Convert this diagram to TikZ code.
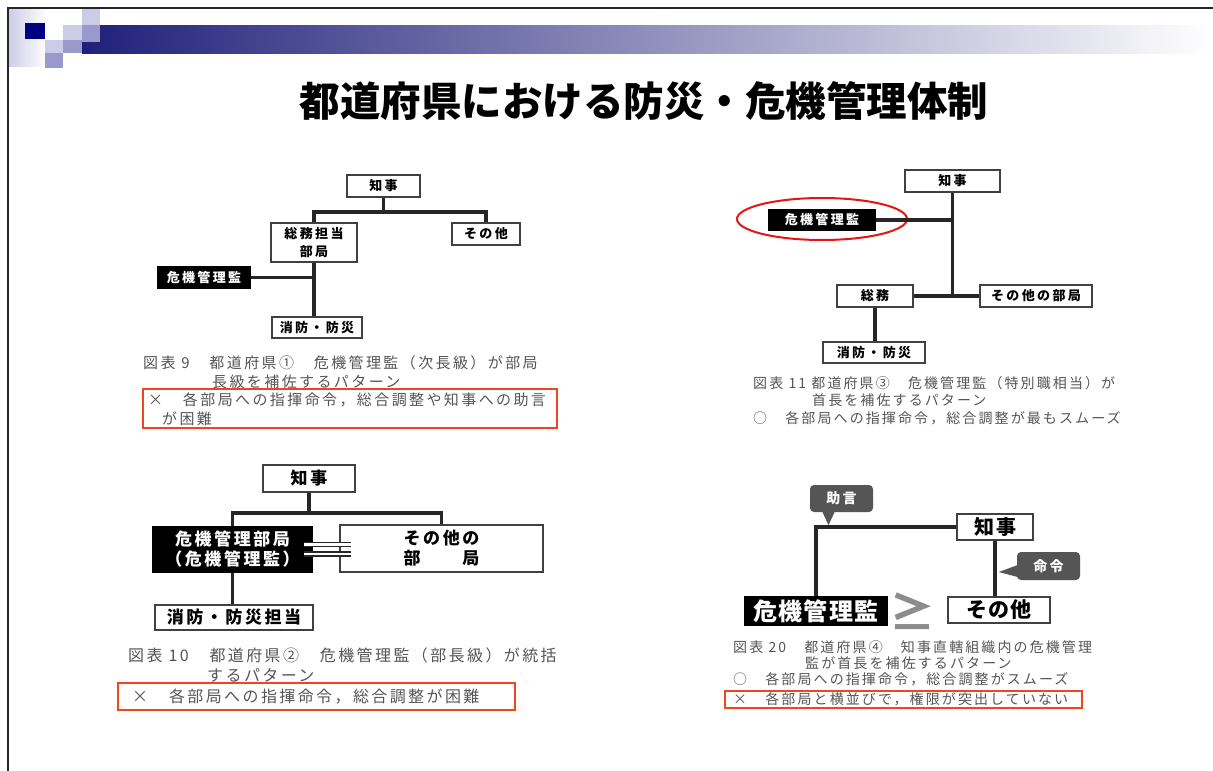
\documentclass[tikz,border=0pt]{standalone}
\usepackage{fontspec}
\newfontfamily\jp{Noto Sans CJK JP}
\usetikzlibrary{calc,shapes.geometric}
\definecolor{navy}{RGB}{32,32,122}
\definecolor{navyd}{RGB}{0,0,128}
\definecolor{lav}{RGB}{204,204,230}
\definecolor{lavm}{RGB}{153,153,204}
\definecolor{redbox}{RGB}{240,70,30}
\definecolor{redell}{RGB}{230,20,20}
\definecolor{capgray}{RGB}{85,85,85}
\definecolor{callgray}{RGB}{85,85,85}
\begin{document}
\begin{tikzpicture}[x=1pt,y=-1pt,
  box/.style={draw=black!75, line width=1.2pt, fill=white, inner sep=0pt, align=center,
    font=\jp\bfseries\fontsize{13}{18}\selectfont\addfontfeature{LetterSpace=18}},
  blk/.style={box, fill=black, draw=black, text=white},
  boxL/.style={box, font=\jp\bfseries\fontsize{17}{20}\selectfont\addfontfeature{LetterSpace=15}},
  blkL/.style={boxL, fill=black, draw=black, text=white},
  conn/.style={line width=3.2pt, black!85},
  dbl/.style={line width=1.4pt, black!85, double=white, double distance=2.5pt},
  capA/.style={anchor=west, inner sep=0pt, text=capgray, font=\jp\fontsize{15}{18}\selectfont\addfontfeature{LetterSpace=16}},
  capB/.style={anchor=west, inner sep=0pt, text=capgray, font=\jp\fontsize{14}{17}\selectfont\addfontfeature{LetterSpace=15}},
  capC/.style={anchor=west, inner sep=0pt, text=capgray, font=\jp\fontsize{16}{19}\selectfont\addfontfeature{LetterSpace=15}},
  redframe/.style={draw=redbox, line width=2pt, inner sep=0pt},
  callout/.style={fill=callgray, rounded corners=4pt, text=white, inner sep=0pt,
    font=\jp\bfseries\fontsize{14}{16}\selectfont\addfontfeature{LetterSpace=15}}
]
\useasboundingbox (0,0) rectangle (1213,771);
\fill[white] (0,0) rectangle (1213,771);
% header decoration
\shade[left color=lav, right color=white] (8,8) rectangle (47,66);
\shade[left color=navy, right color=white] (82,25) rectangle (1213,53);
\fill[navyd] (25,23) rectangle (45,39);
\fill[lav] (82,8) rectangle (100,25);
\fill[lavm] (82,25) rectangle (100,42);
\fill[lav] (63,25) rectangle (82,42);
\fill[lavm] (63,40) rectangle (82,53);
\fill[lav] (45,40) rectangle (63,53);
\fill[lavm] (45,53) rectangle (63,68);
\draw[line width=1.5pt, black!85] (1213,8) -- (8,8) -- (8,771);
% title
\node[font=\jp\bfseries\fontsize{40.5}{45}\selectfont] (title) at (644,101) {都道府県における防災・危機管理体制};

% ---------- Q1 ----------
\node[box, minimum width=73, minimum height=22] (k1) at (383.5,186) {知事};
\node[box, minimum width=86, minimum height=39] (s1) at (314,242.5) {総務担当\\部局};
\node[box, minimum width=68, minimum height=22] (o1) at (486,234) {その他};
\node[blk, minimum width=92, minimum height=21] (c1) at (204,277.5) {危機管理監};
\node[box, minimum width=90, minimum height=21] (f1) at (317,327.5) {消防・防災};
\coordinate (j1) at (383.5,212);
\draw[conn] (k1.south) -- (j1);
\draw[conn] (s1.north) |- (j1) -| (o1.north);
\draw[conn] (s1.south) -- (s1.south |- f1.north);
\draw[conn] (c1.east) -- (c1.east -| s1.south);
\node[capA] (t1a) at (143,363) {図表 9　都道府県①　危機管理監（次長級）が部局};
\node[capA] (t1b) at (212,382) {長級を補佐するパターン};
\node[redframe, minimum width=414, minimum height=39] (r1) at (350,408.5) {};
\node[capA] (t1c) at (148,400) {×　各部局への指揮命令，総合調整や知事への助言};
\node[capA] (t1d) at (162,419) {が困難};

% ---------- Q2 ----------
\node[box, minimum width=95, minimum height=22] (k2) at (952.5,181) {知事};
\node[blk, minimum width=106, minimum height=20] (c2) at (822,220) {危機管理監};
\node[box, minimum width=76, minimum height=22] (g2) at (875,296) {総務};
\node[box, minimum width=112, minimum height=22] (o2) at (1036,296) {その他の部局};
\node[box, minimum width=102, minimum height=21] (f2) at (874,352.5) {消防・防災};
\node[draw=redell, line width=2pt, ellipse, minimum width=170, minimum height=42, inner sep=0pt] (e2) at (822,219) {};
\draw[conn] (k2.south) -- (k2.south |- g2.east);
\draw[conn] (g2.east) -- (o2.west);
\draw[conn] (c2.east) -- (c2.east -| k2.south);
\draw[conn] (g2.south) -- (g2.south |- f2.north);
\node[capB] (t2a) at (753,383) {図表 11 都道府県③　危機管理監（特別職相当）が};
\node[capB] (t2b) at (812,400) {首長を補佐するパターン};
\node[capB] (t2c) at (753,418) {○　各部局への指揮命令，総合調整が最もスムーズ};

% ---------- Q3 ----------
\node[boxL, minimum width=92, minimum height=27] (k3) at (309,478.5) {知事};
\node[blkL, minimum width=159, minimum height=45] (m3) at (232.5,549.5) {危機管理部局\\（危機管理監）};
\node[boxL, minimum width=203, minimum height=47] (o3) at (441.5,548.5) {その他の\\部　　局};
\node[boxL, minimum width=158, minimum height=25] (f3) at (234,617.5) {消防・防災担当};
\coordinate (j3) at (309,513);
\draw[conn] (k3.south) -- (j3);
\draw[conn] (m3.north) |- (j3) -| (o3.north);
\draw[dbl, shorten <=-9pt, shorten >=-12pt] ($(m3.east)+(0,-5)$) -- ($(m3.east -| o3.west)+(0,-5)$);
\draw[dbl, shorten <=-9pt, shorten >=-12pt] ($(m3.east)+(0,4.5)$) -- ($(m3.east -| o3.west)+(0,4.5)$);
\draw[conn] (m3.south) -- (m3.south |- f3.north);
\node[capC] (t3a) at (128,655) {図表 10　都道府県②　危機管理監（部長級）が統括};
\node[capC] (t3b) at (207,675) {するパターン};
\node[redframe, minimum width=397, minimum height=27] (r3) at (316.5,696.5) {};
\node[capC] (t3c) at (132,697) {×　各部局への指揮命令，総合調整が困難};

% ---------- Q4 ----------
\node[callout, minimum width=63, minimum height=27] (a4) at (841.5,498.5) {助言};
\fill[callgray] ([xshift=-19pt]a4.south) -- ([xshift=-7pt]a4.south) -- ($(a4.south)+(-13,13)$) -- cycle;
\node[box, minimum width=76, minimum height=26, font=\jp\bfseries\fontsize{20}{22}\selectfont\addfontfeature{LetterSpace=10}] (k4) at (995,527) {知事};
\node[blk, minimum width=142, minimum height=28, font=\jp\bfseries\fontsize{24}{26}\selectfont\addfontfeature{LetterSpace=5}] (c4) at (816,611) {危機管理監};
\node[box, minimum width=102, minimum height=26, font=\jp\bfseries\fontsize{21}{23}\selectfont\addfontfeature{LetterSpace=5}] (o4) at (999,610) {その他};
\node[text=black!45, inner sep=0pt, font=\jp\bfseries\fontsize{46}{50}\selectfont] (g4) at (912,611) {≥};
\node[callout, minimum width=63, minimum height=28] (r4) at (1048.5,566) {命令};
\draw[conn] (k4.west) -| (c4.north);
\draw[conn] (k4.south) -- (k4.south |- o4.north);
\fill[callgray] ($(r4.west)+(1,-1)$) -- ($(r4.west)+(1,11)$) -- ($(r4.west)+(-18,6)$) -- cycle;
\node[capB] (t4a) at (733,647) {図表 20　都道府県④　知事直轄組織内の危機管理};
\node[capB] (t4b) at (805,663) {監が首長を補佐するパターン};
\node[capB] (t4c) at (733,679) {○　各部局への指揮命令，総合調整がスムーズ};
\node[redframe, minimum width=357, minimum height=17] (r4b) at (903.5,699.5) {};
\node[capB] (t4d) at (733,699.5) {×　各部局と横並びで，権限が突出していない};
\end{tikzpicture}
\end{document}
